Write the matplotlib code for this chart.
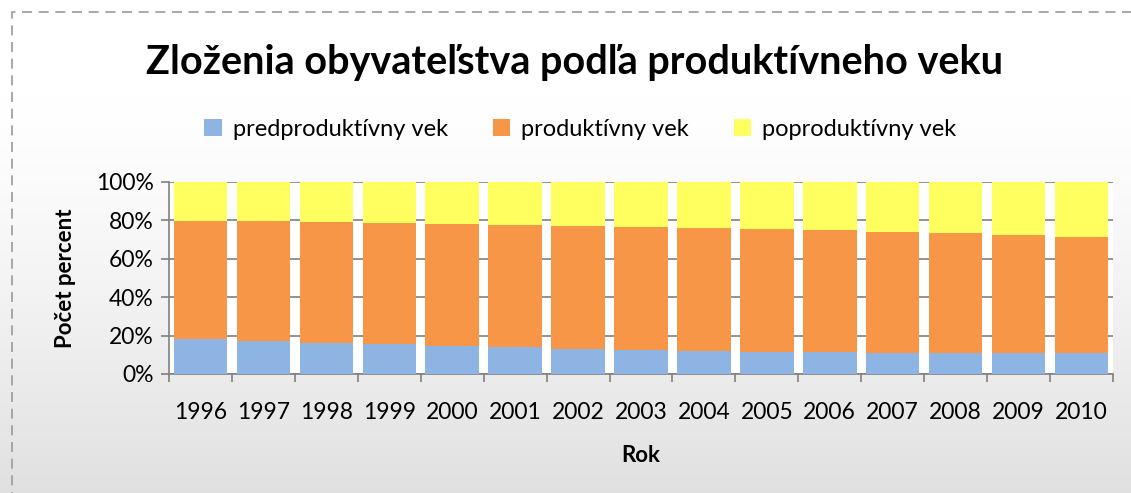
import numpy as np
import matplotlib.pyplot as plt
from matplotlib.patches import Rectangle
from matplotlib.ticker import PercentFormatter

# podiely v percentach, odcitane z obrazku
roky = ["1996", "1997", "1998", "1999", "2000", "2001", "2002", "2003",
        "2004", "2005", "2006", "2007", "2008", "2009", "2010"]
predprod = [18.1, 17.2, 16.3, 15.6, 14.8, 13.9, 13.0, 12.3, 12.0, 11.6, 11.3, 10.9, 10.8, 10.8, 10.9]
prod_hore = [79.8, 79.5, 79.0, 78.5, 78.1, 77.6, 77.1, 76.6, 76.0, 75.3, 74.8, 74.0, 73.3, 72.3, 71.4]
prod = [h - p for h, p in zip(prod_hore, predprod)]
poprod = [100 - h for h in prod_hore]

plt.rcParams['font.family'] = ['Lato', 'DejaVu Sans']

fig = plt.figure(figsize=(11.31, 4.93), dpi=100)

# pozadie s prechodom
bg = fig.add_axes([0, 0, 1, 1], zorder=-10)
t = np.linspace(0, 1, 256)
grad = 1.0 - 0.12 * np.clip((t - 0.2) / 0.8, 0, 1) ** 1.3
grad = grad.reshape(-1, 1)
bg.imshow(np.dstack([grad, grad, grad]), aspect="auto", extent=[0, 1, 0, 1],
          interpolation="bicubic")
bg.set_xlim(0, 1)
bg.set_ylim(0, 1)
bg.axis("off")
bg.add_patch(Rectangle((0.011, -0.05), 1.2, 1.025, fill=False, ec="#9a9a9a",
                       lw=1.2, ls=(0, (6, 4)), transform=bg.transAxes))

ax = fig.add_axes([169 / 1131, 1 - 374 / 493, (1113 - 169) / 1131, 192 / 493])
ax.set_facecolor("white")
x = np.arange(len(roky))
w = 0.85
ax.bar(x, predprod, w, color="#8EB4E3", label="predproduktívny vek", zorder=3)
ax.bar(x, prod, w, bottom=predprod, color="#F79646", label="produktívny vek", zorder=3)
ax.bar(x, poprod, w, bottom=prod_hore, color="#FFFF5F", label="poproduktívny vek", zorder=3)

ax.set_xlim(-0.5, len(roky) - 0.5)
ax.set_ylim(0, 100)
ax.yaxis.set_major_formatter(PercentFormatter(decimals=0))
ax.set_yticks(np.arange(0, 101, 20))
ax.set_xticks(x)
ax.set_xticklabels(roky)
ax.set_xticks(np.arange(-0.5, len(roky), 1), minor=True)
ax.tick_params(axis="x", which="major", length=0, labelsize=16.5, pad=20)
ax.tick_params(axis="x", which="minor", length=6, color="#808080", width=1.2)
ax.tick_params(axis="y", length=6, color="#808080", width=1.2, labelsize=16.5, pad=5)
ax.grid(axis="y", color="#808080", lw=1.2, zorder=1)
for s in ["top", "right"]:
    ax.spines[s].set_visible(False)
for s in ["left", "bottom"]:
    ax.spines[s].set_color("#808080")
    ax.spines[s].set_linewidth(1.2)

ax.set_ylabel("Počet percent", fontsize=16, fontweight="bold", labelpad=14)
ax.set_xlabel("Rok", fontsize=16, fontweight="bold", labelpad=16)

fig.text(0.508, 0.873, "Zloženia obyvateľstva podľa produktívneho veku",
         ha="center", va="center", fontsize=28.5, fontweight="bold")
fig.legend(loc="center", bbox_to_anchor=(0.513, 0.738), ncol=3, frameon=False,
           fontsize=17, handlelength=0.75, handleheight=0.75, columnspacing=1.9,
           handletextpad=0.45)

fig.savefig("out.png", dpi=100)
